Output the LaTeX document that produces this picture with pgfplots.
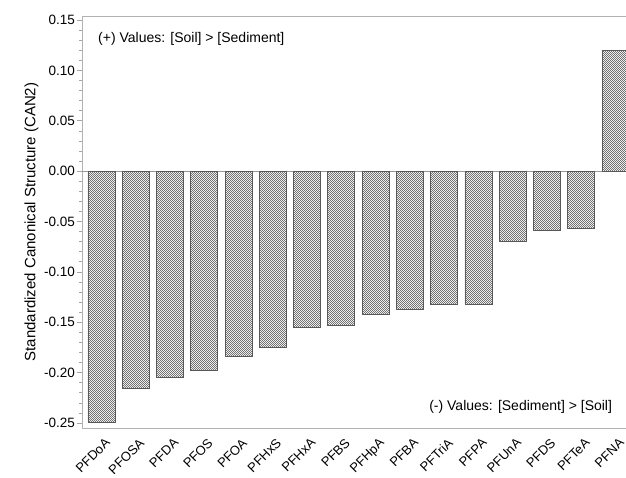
\documentclass[border=0pt]{standalone}
\usepackage{pgfplots}
\pgfplotsset{compat=1.18}
\usepackage{fontspec}
\setmainfont{Liberation Sans}
\usetikzlibrary{patterns.meta}
\tikzdeclarepattern{
  name=finecheck, type=uncolored,
  bottom left={(0,0)}, top right={(2.4pt,2.4pt)}, tile size={(2.4pt,2.4pt)},
  code={\fill (0,0) rectangle (1.2pt,1.2pt); \fill (1.2pt,1.2pt) rectangle (2.4pt,2.4pt);}
}
\pgfplotstableread{
x val
0 -0.249
1 -0.216
2 -0.205
3 -0.198
4 -0.184
5 -0.175
6 -0.155
7 -0.153
8 -0.142
9 -0.137
10 -0.132
11 -0.132
12 -0.0695
13 -0.0586
14 -0.057
15 0.120
}\datatable
\begin{document}
\begin{tikzpicture}
\begin{axis}[
  scale only axis,
  width=544pt, height=412pt,
  xmin=-0.569, xmax=15.305,
  ymin=-0.255, ymax=0.154,
  axis x line*=box, axis y line*=left,
  axis line style={draw=black!30, line width=0.8pt},
  xtick={0,1,...,15},
  xticklabels={PFDoA,PFOSA,PFDA,PFOS,PFOA,PFHxS,PFHxA,PFBS,PFHpA,PFBA,PFTriA,PFPA,PFUnA,PFDS,PFTeA,PFNA},
  x tick style={draw=none},
  xticklabel style={rotate=45, anchor=north east, inner sep=1pt, font=\fontsize{13}{15}\selectfont, xshift=0pt, yshift=-4pt},
  ytick={-0.25,-0.20,...,0.15},
  yticklabels={-0.25,-0.20,-0.15,-0.10,-0.05,0.00,0.05,0.10,0.15},
  minor y tick num=4,
  y tick style={draw=black!35, line width=0.6pt},
  major tick length=5pt, minor tick length=2.5pt,
  tick align=outside,
  yticklabel style={font=\fontsize{13.5}{15}\selectfont, inner sep=2pt},
  ylabel={Standardized Canonical Structure (CAN2)},
  ylabel style={font=\fontsize{15}{17}\selectfont, yshift=0pt},
  clip=true,
]
\addplot[black!40, line width=0.8pt, forget plot] coordinates {(-0.569,0) (15.305,0)};
\addplot[ybar, bar width=27pt, draw=black!65, line width=0.8pt,
  fill=white, postaction={pattern=finecheck, pattern color=black!55}]
  table[x=x, y=val] {\datatable};
\node[anchor=west, font=\fontsize{14}{16}\selectfont] at (axis cs:-0.2,0.1315) {(+) Values: [Soil] > [Sediment]};
\node[anchor=east, font=\fontsize{14}{16}\selectfont] at (axis cs:15.0,-0.234) {(-) Values: [Sediment] > [Soil]};
\end{axis}
\pgfresetboundingbox
\path (current axis.south west) ++(-82pt,-49pt) rectangle ++(626pt,477pt);
\end{tikzpicture}
\end{document}
